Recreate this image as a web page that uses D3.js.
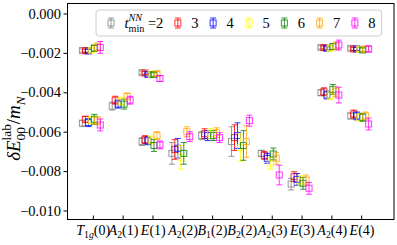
<!DOCTYPE html>
<html>
<head>
<meta charset="utf-8">
<script src="https://cdn.jsdelivr.net/npm/d3@7"></script>
<style>
  body { margin: 0; background: #fff; }
  svg text { font-family: "Liberation Serif", "Times New Roman", serif; fill: #000; }
</style>
</head>
<body>
<svg id="chart" width="397" height="245"></svg>
<script>
// irreps on the x axis
const categories = ["T_{1g}(0)", "A_{2}(1)", "E(1)", "A_{2}(2)", "B_{1}(2)", "B_{2}(2)", "A_{2}(3)", "E(3)", "A_{2}(4)", "E(4)"];
const tmins = [2, 3, 4, 5, 6, 7, 8];
const colors = ["gray", "red", "blue", "yellow", "green", "orange", "magenta"];
const yTicks = [0, -0.002, -0.004, -0.006, -0.008, -0.010];

// one entry per energy level: which irrep it belongs to, then values / errors for tmin = 2..8
const levelCat = [0, 0, 1, 2, 2, 3, 4, 5, 6, 7, 8, 8, 9, 9];
const levelValues = [
  [-0.00188, -0.00189, -0.00190, -0.00186, -0.00176, -0.00170, -0.00172],
  [-0.00557, -0.00537, -0.00554, -0.00542, -0.00537, -0.00544, -0.00566],
  [-0.00470, -0.00440, -0.00460, -0.00445, -0.00460, -0.00420, -0.00440],
  [-0.00300, -0.00302, -0.00310, -0.00308, -0.00310, -0.00305, -0.00330],
  [-0.00650, -0.00640, -0.00646, -0.00642, -0.00670, -0.00620, -0.00667],
  [-0.00710, -0.00690, -0.00684, -0.00730, -0.00710, -0.00600, -0.00625],
  [-0.00620, -0.00610, -0.00620, -0.00610, -0.00620, -0.00605, -0.00630],
  [-0.00650, -0.00630, -0.00620, -0.00680, -0.00670, -0.00650, -0.00544],
  [-0.00710, -0.00720, -0.00735, -0.00760, -0.00713, -0.00735, -0.00820],
  [-0.00866, -0.00828, -0.00842, -0.00849, -0.00862, -0.00845, -0.00887],
  [-0.00172, -0.00173, -0.00177, -0.00177, -0.00168, -0.00165, -0.00160],
  [-0.00402, -0.00397, -0.00414, -0.00417, -0.00385, -0.00397, -0.00414],
  [-0.00177, -0.00180, -0.00180, -0.00182, -0.00185, -0.00180, -0.00180],
  [-0.00520, -0.00510, -0.00520, -0.00527, -0.00527, -0.00520, -0.00561]
];
const levelErrors = [
  [0.00008, 0.00008, 0.00009, 0.00010, 0.00015, 0.00020, 0.00030],
  [0.00015, 0.00015, 0.00020, 0.00020, 0.00025, 0.00020, 0.00030],
  [0.00020, 0.00020, 0.00020, 0.00020, 0.00025, 0.00015, 0.00020],
  [0.00008, 0.00008, 0.00008, 0.00010, 0.00010, 0.00010, 0.00015],
  [0.00020, 0.00020, 0.00020, 0.00020, 0.00030, 0.00020, 0.00020],
  [0.00055, 0.00050, 0.00050, 0.00060, 0.00055, 0.00025, 0.00025],
  [0.00020, 0.00025, 0.00025, 0.00025, 0.00025, 0.00025, 0.00025],
  [0.00075, 0.00065, 0.00065, 0.00070, 0.00075, 0.00080, 0.00028],
  [0.00015, 0.00020, 0.00025, 0.00030, 0.00030, 0.00030, 0.00050],
  [0.00030, 0.00025, 0.00030, 0.00025, 0.00030, 0.00025, 0.00030],
  [0.00008, 0.00008, 0.00008, 0.00010, 0.00015, 0.00020, 0.00025],
  [0.00015, 0.00020, 0.00020, 0.00020, 0.00025, 0.00025, 0.00040],
  [0.00008, 0.00008, 0.00008, 0.00010, 0.00010, 0.00012, 0.00015],
  [0.00015, 0.00020, 0.00020, 0.00020, 0.00020, 0.00020, 0.00030]
];

const svg = d3.select("#chart");
const plotLeft = 67.5, plotRight = 394, plotTop = 3.5, plotBottom = 219.5;
const fs = 14.5;

const x = d3.scaleLinear().domain([-0.85, 10.1]).range([plotLeft, plotRight]);
const y = d3.scaleLinear().domain([-0.010457, 0.000508]).range([plotBottom, plotTop]);

// writes tokens as tspans; a token with stack:true sits under the previous script
function mathText(text, tokens, size) {
  let level = 0, pending = 0, lastW = 0;
  tokens.forEach(tok => {
    const shift = tok.pos === "sup" ? -0.45 * size : tok.pos === "sub" ? 0.28 * size : 0;
    const ts = text.append("tspan")
      .attr("dy", shift - level)
      .attr("font-size", tok.pos ? size * 0.7 : size)
      .attr("font-style", tok.it ? "italic" : "normal")
      .text(tok.t);
    level = shift;
    let dx = pending;
    if (tok.stack) dx -= lastW;
    ts.attr("dx", dx);
    const w = ts.node().getComputedTextLength();
    pending = tok.stack ? Math.max(0, lastW - w) : 0;
    lastW = w;
  });
}

// centre a text horizontally around x = 0 (text-anchor is unreliable with shifted tspans)
function centerText(text) {
  text.attr("text-anchor", "start").attr("x", 0);
  const b = text.node().getBBox();
  text.attr("x", -(b.x + b.width / 2));
}

function catTokens(label) {
  const m = label.match(/^(\w)(?:_\{(\w+)\})?(\(\d\))$/);
  const toks = [{ t: m[1], it: true }];
  if (m[2]) m[2].split("").forEach(c => toks.push({ t: c, it: /[a-z]/i.test(c), pos: "sub" }));
  toks.push({ t: m[3] });
  return toks;
}

// y axis
const yAxis = svg.append("g")
  .attr("transform", `translate(${plotLeft},0)`)
  .call(d3.axisLeft(y).tickValues(yTicks).tickFormat(d3.format(".3f")).tickSize(4).tickPadding(2.5));
yAxis.select(".domain").remove();
yAxis.selectAll(".tick text").attr("font-size", fs).attr("font-family", null);
yAxis.selectAll(".tick line").attr("stroke", "#000");

// x axis, ticks pointing inward
const xfs = 14;
const xAxis = svg.append("g")
  .attr("transform", `translate(0,${plotBottom})`)
  .call(d3.axisBottom(x).tickValues(d3.range(categories.length)).tickSize(-4).tickFormat(() => ""));
xAxis.select(".domain").remove();
xAxis.selectAll(".tick line").attr("stroke", "#000");
xAxis.selectAll(".tick text")
  .attr("font-size", xfs).attr("font-family", null)
  .attr("y", 15).attr("dy", null)
  .each(function (d) {
    const t = d3.select(this);
    mathText(t, catTokens(categories[d]), xfs);
    centerText(t);
  });

// data, one group per tmin
const cap = 3, half = 3;
tmins.forEach((t, j) => {
  const pts = levelCat.map((c, i) => ({
    cx: x(c + (j - 3.5) * 0.1),
    v: levelValues[i][j],
    e: levelErrors[i][j]
  })).filter(p => p.v != null);
  const g = svg.append("g")
    .attr("stroke", colors[j]).attr("stroke-opacity", 0.8)
    .attr("fill", "none").attr("stroke-width", 1);
  g.selectAll("line.bar").data(pts).join("line").attr("class", "bar")
    .attr("x1", d => d.cx).attr("x2", d => d.cx)
    .attr("y1", d => y(d.v + d.e)).attr("y2", d => y(d.v - d.e));
  g.selectAll("line.capt").data(pts).join("line").attr("class", "capt")
    .attr("x1", d => d.cx - cap).attr("x2", d => d.cx + cap)
    .attr("y1", d => y(d.v + d.e)).attr("y2", d => y(d.v + d.e));
  g.selectAll("line.capb").data(pts).join("line").attr("class", "capb")
    .attr("x1", d => d.cx - cap).attr("x2", d => d.cx + cap)
    .attr("y1", d => y(d.v - d.e)).attr("y2", d => y(d.v - d.e));
  g.selectAll("rect").data(pts).join("rect")
    .attr("x", d => d.cx - half).attr("y", d => y(d.v) - half)
    .attr("width", 2 * half).attr("height", 2 * half);
});

// frame
svg.append("rect")
  .attr("x", plotLeft).attr("y", plotTop).attr("width", plotRight - plotLeft).attr("height", plotBottom - plotTop)
  .attr("fill", "none").attr("stroke", "#000").attr("stroke-width", 1);

// legend
const leg = svg.append("g");
const legBox = leg.append("rect")
  .attr("x", 96).attr("y", 10).attr("height", 26).attr("rx", 3)
  .attr("fill", "#fff").attr("fill-opacity", 0.8).attr("stroke", "#ccc").attr("stroke-width", 1);
let lx = 111;
const ly = 23;
tmins.forEach((t, j) => {
  const g = leg.append("g").attr("stroke", colors[j]).attr("stroke-opacity", 0.8).attr("fill", "none");
  g.append("line").attr("x1", lx).attr("x2", lx).attr("y1", ly - 5).attr("y2", ly + 5);
  g.append("line").attr("x1", lx - cap).attr("x2", lx + cap).attr("y1", ly - 5).attr("y2", ly - 5);
  g.append("line").attr("x1", lx - cap).attr("x2", lx + cap).attr("y1", ly + 5).attr("y2", ly + 5);
  g.append("rect").attr("x", lx - half).attr("y", ly - half).attr("width", 2 * half).attr("height", 2 * half);
  const txt = leg.append("text").attr("x", lx + 13.5).attr("y", ly + 4.5).attr("font-size", fs);
  if (j === 0) {
    mathText(txt, [
      { t: "t", it: true },
      { t: "NN", it: true, pos: "sup" },
      { t: "min", pos: "sub", stack: true },
      { t: "\u00a0=" + t }
    ], fs);
  } else {
    txt.text(t);
  }
  lx = lx + 13.5 + txt.node().getBBox().width + 14.5;
});
legBox.attr("width", lx - 14.5 + 6 - 96);

// y label
const yl = svg.append("g").attr("transform", "translate(20,128) rotate(-90)")
  .append("text").attr("font-size", 19);
mathText(yl, [
  { t: "\u03b4", it: true },
  { t: "E", it: true },
  { t: "lab", pos: "sup" },
  { t: "00", pos: "sub", stack: true },
  { t: "/" },
  { t: "m", it: true },
  { t: "N", it: true, pos: "sub" }
], 19);
centerText(yl);
</script>
</body>
</html>
